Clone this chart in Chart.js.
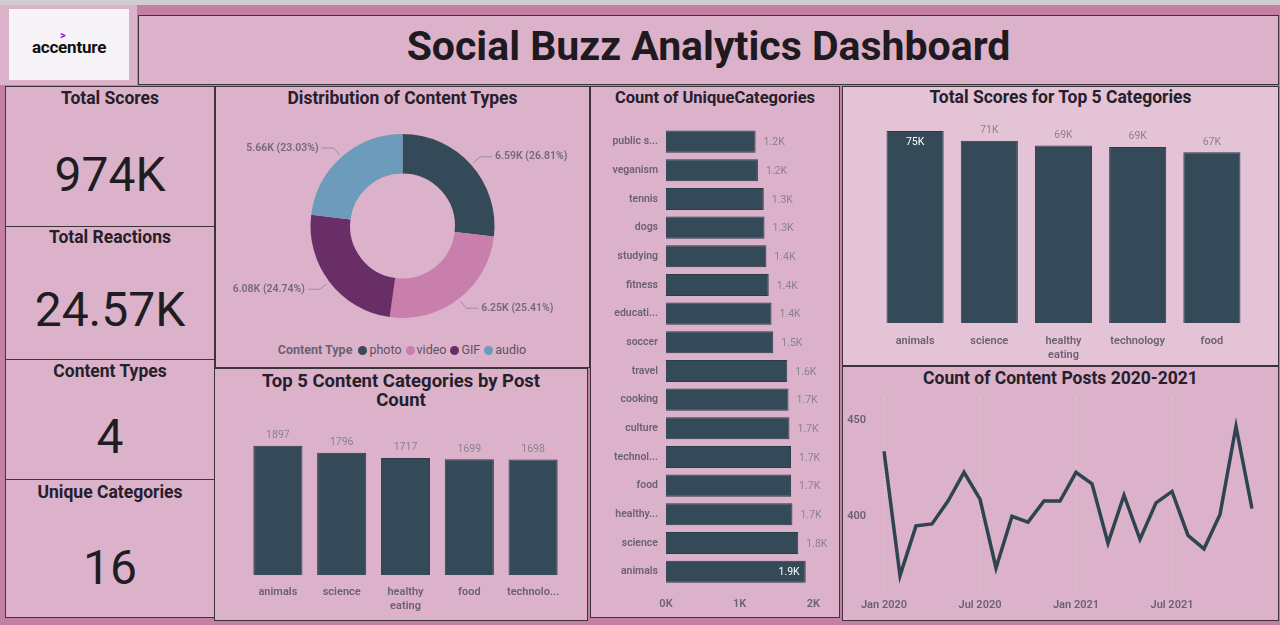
<!DOCTYPE html>
<html><head><meta charset="utf-8">
<script src="https://cdn.jsdelivr.net/npm/chart.js@4.4.1/dist/chart.umd.min.js"></script>
<style>
html,body{margin:0;padding:0;}
body{width:1280px;height:625px;background:#c47fa4;position:relative;overflow:hidden;font-family:Roboto,"DejaVu Sans",sans-serif;}
.topstrip{position:absolute;left:0;top:0;width:1280px;height:5px;background:#cfcdcf;}
.panel{position:absolute;box-sizing:border-box;background:#dcb2ca;border:1.5px solid #3b3438;}
.ptitle{position:absolute;left:0;right:0;text-align:center;font-weight:700;color:#25202a;font-size:17.5px;line-height:20px;}
.kval{position:absolute;left:0;right:0;text-align:center;color:#1e1e22;font-size:48px;line-height:50px;}
canvas{position:absolute;}
#legend{position:absolute;left:215px;width:374px;top:342px;text-align:center;font-size:12.5px;color:#5a5262;}
#legend span.it{margin-left:4px;}
#legend i{display:inline-block;width:9px;height:9px;border-radius:50%;margin-right:2px;vertical-align:-1px;}
</style></head>
<body>
<div class="topstrip"></div>
<div style="position:absolute;left:0;top:5px;width:137px;height:80px;background:#dcb2ca;"></div>
<div style="position:absolute;left:9px;top:9px;width:120px;height:71px;background:#f6f4f6;">
  <div style="position:absolute;left:0;right:0;top:28px;text-align:center;font-size:17px;font-weight:700;color:#111;letter-spacing:-0.2px;">accenture</div>
  <div style="position:absolute;left:51px;top:20px;color:#a100ff;font-size:11px;font-weight:700;">&gt;</div>
</div>
<div class="panel" style="left:138px;top:15px;width:1141px;height:70px;">
  <div style="position:absolute;left:0;right:0;top:6px;text-align:center;font-size:41px;line-height:48px;font-weight:700;color:#1e1a20;">Social Buzz Analytics Dashboard</div>
</div>

<div class="panel" style="left:5px;top:86px;width:210px;height:141px;"><div class="ptitle" style="top:1px;">Total Scores</div><div class="kval" id="k1" style="top:63px;"></div></div>
<div class="panel" style="left:5px;top:226px;width:210px;height:134px;"><div class="ptitle" style="top:0px;">Total Reactions</div><div class="kval" id="k2" style="top:58px;"></div></div>
<div class="panel" style="left:5px;top:359px;width:210px;height:121px;"><div class="ptitle" style="top:1px;">Content Types</div><div class="kval" id="k3" style="top:52px;"></div></div>
<div class="panel" style="left:5px;top:479px;width:210px;height:139px;"><div class="ptitle" style="top:2px;">Unique Categories</div><div class="kval" id="k4" style="top:63px;"></div></div>

<div class="panel" style="left:215px;top:86px;width:375px;height:282px;"><div class="ptitle" style="top:1px;">Distribution of Content Types</div></div>
<div class="panel" style="left:214px;top:368px;width:374px;height:253px;"><div class="ptitle" style="top:3px;font-size:18.5px;line-height:19px;">Top 5 Content Categories by Post<br>Count</div></div>
<div class="panel" style="left:590px;top:86px;width:250px;height:532px;"><div class="ptitle" style="top:1px;font-size:16.5px;">Count of UniqueCategories</div></div>
<div class="panel" style="left:842px;top:86px;width:437px;height:280px;background:#e4c3d6;"><div class="ptitle" style="top:0px;">Total Scores for Top 5 Categories</div></div>
<div class="panel" style="left:842px;top:366px;width:437px;height:255px;"><div class="ptitle" style="top:1px;">Count of Content Posts 2020-2021</div></div>

<canvas id="donut" width="365" height="228" style="left:220px;top:112px;"></canvas>
<div id="legend"></div>
<canvas id="top5" width="360" height="200" style="left:222px;top:415px;"></canvas>
<canvas id="uniq" width="240" height="503" style="left:596px;top:113px;"></canvas>
<canvas id="scores" width="428" height="253" style="left:846px;top:110px;"></canvas>
<canvas id="line" width="430" height="244" style="left:844px;top:374px;"></canvas>

<script>
// ---------- DATA ----------
const totalScores = 974000;
const contentTypes = ['photo','video','GIF','audio'];
const contentTypeCounts = [6589, 6245, 6079, 5660];

const top5PostCategories = ['animals','science',['healthy','eating'],'food','technolo...'];
const top5PostCounts = [1897, 1796, 1717, 1699, 1698];

const uniqueCategories = ['public s...','veganism','tennis','dogs','studying','fitness','educati...','soccer','travel','cooking','culture','technol...','food','healthy...','science','animals'];
const uniqueCategoryCounts = [1217, 1248, 1328, 1338, 1363, 1395, 1433, 1457, 1647, 1664, 1676, 1698, 1699, 1717, 1796, 1897];
const uniqueXTicks = [0, 1000, 2000];

const top5ScoreCategories = ['animals','science',['healthy','eating'],'technology','food'];
const top5ScoreValues = [74965, 71168, 69339, 68738, 66676];

const months = ['Jan 2020','Feb 2020','Mar 2020','Apr 2020','May 2020','Jun 2020','Jul 2020','Aug 2020','Sep 2020','Oct 2020','Nov 2020','Dec 2020',
                'Jan 2021','Feb 2021','Mar 2021','Apr 2021','May 2021','Jun 2021','Jul 2021','Aug 2021','Sep 2021','Oct 2021','Nov 2021','Dec 2021'];
const monthlyPosts = [434, 369, 395, 396, 408, 423, 409, 373, 400, 397, 408, 408, 423, 417, 386, 411, 388, 407, 413, 390, 383, 401, 447, 404];
const lineYTicks = [400, 450];

// ---------- STYLE ----------
const BAR = '#344a58';
const sliceColors = ['#344a58','#c87fab','#6a2e66','#6d9bbb'];
const LABEL_GRAY = '#8b8090';
const TICK_GRAY = '#6a6272';
const FONT = 'Roboto, "DejaVu Sans", sans-serif';

// KPIs
const totalReactions = contentTypeCounts.reduce((a,b)=>a+b,0);
document.getElementById('k1').textContent = Math.round(totalScores/1000)+'K';
document.getElementById('k2').textContent = (totalReactions/1000).toFixed(2)+'K';
document.getElementById('k3').textContent = contentTypes.length;
document.getElementById('k4').textContent = uniqueCategories.length;

// legend
const lg = document.getElementById('legend');
let lh = '<span style="font-weight:700;color:#6a6272;margin-right:2px;">Content Type</span>';
contentTypes.forEach((t,i)=>{ lh += '<span class="it"><i style="background:'+sliceColors[i]+'"></i>'+t+'</span>'; });
lg.innerHTML = lh;

// ---------- PLUGINS ----------
const barLabels = {
  id:'barLabels',
  afterDatasetsDraw(chart, args, opts){
    const {ctx, chartArea} = chart;
    const meta = chart.getDatasetMeta(0);
    const data = chart.data.datasets[0].data;
    ctx.save();
    ctx.font = opts.font;
    meta.data.forEach((el,i)=>{
      const txt = opts.format(data[i]);
      const w = ctx.measureText(txt).width;
      if (opts.horizontal){
        let x = el.x + 8, color = opts.color, align = 'left';
        if (x + w > chartArea.right + 1){ x = el.x - 6; color = '#ffffff'; align = 'right'; }
        ctx.fillStyle = color; ctx.textAlign = align; ctx.textBaseline = 'middle';
        ctx.fillText(txt, x, el.y + 1);
      } else {
        let y = el.y - 5, color = opts.color, base = 'bottom';
        if (el.y - 14 < chartArea.top){ y = el.y + 6; color = '#ffffff'; base = 'top'; }
        ctx.fillStyle = color; ctx.textAlign = 'center'; ctx.textBaseline = base;
        ctx.fillText(txt, el.x, y);
      }
    });
    ctx.restore();
  }
};

const donutLabels = {
  id:'donutLabels',
  afterDatasetsDraw(chart){
    const {ctx} = chart;
    const meta = chart.getDatasetMeta(0);
    const data = chart.data.datasets[0].data;
    const total = data.reduce((a,b)=>a+b,0);
    ctx.save();
    ctx.font = '600 10.5px ' + FONT;
    ctx.strokeStyle = '#9a8f9d'; ctx.lineWidth = 1;
    meta.data.forEach((arc,i)=>{
      const mid = (arc.startAngle + arc.endAngle)/2;
      const R = arc.outerRadius;
      const x0 = arc.x + Math.cos(mid)*(R+3), y0 = arc.y + Math.sin(mid)*(R+3);
      const x1 = arc.x + Math.cos(mid)*(R+12), y1 = arc.y + Math.sin(mid)*(R+12);
      const right = Math.cos(mid) >= 0;
      const x2 = x1 + (right ? 12 : -12);
      ctx.beginPath(); ctx.moveTo(x0,y0); ctx.lineTo(x1,y1); ctx.lineTo(x2,y1); ctx.stroke();
      const txt = (data[i]/1000).toFixed(2)+'K ('+(data[i]/total*100).toFixed(2)+'%)';
      ctx.fillStyle = '#74697a';
      ctx.textAlign = right ? 'left' : 'right';
      ctx.textBaseline = 'middle';
      ctx.fillText(txt, x2 + (right ? 3 : -3), y1);
    });
    ctx.restore();
  }
};

Chart.defaults.font.family = FONT;
Chart.defaults.animation = false;

// ---------- DONUT ----------
new Chart(document.getElementById('donut'), {
  type:'doughnut',
  data:{labels:contentTypes, datasets:[{data:contentTypeCounts, backgroundColor:sliceColors, borderWidth:0}]},
  options:{responsive:false, cutout:'57%', layout:{padding:22},
    plugins:{legend:{display:false}, tooltip:{enabled:false}}},
  plugins:[donutLabels]
});

// ---------- TOP 5 POSTS ----------
new Chart(document.getElementById('top5'), {
  type:'bar',
  data:{labels:top5PostCategories, datasets:[{data:top5PostCounts, backgroundColor:BAR, borderColor:'#2b3d48', borderWidth:1, categoryPercentage:1, barPercentage:0.77}]},
  options:{responsive:false, layout:{padding:{left:24,right:17,top:15,bottom:0}},
    scales:{
      x:{grid:{display:false, drawTicks:false}, border:{display:false}, afterFit(s){s.height=40;},
         ticks:{color:TICK_GRAY, font:{size:11, weight:'600'}, padding:11, maxRotation:0, autoSkip:false}},
      y:{display:false, min:0, max:2130}
    },
    plugins:{legend:{display:false}, tooltip:{enabled:false},
      barLabels:{font:'10.5px '+FONT, color:LABEL_GRAY, format:v=>String(v)}}},
  plugins:[barLabels]
});

// ---------- UNIQUE CATEGORIES ----------
new Chart(document.getElementById('uniq'), {
  type:'bar',
  data:{labels:uniqueCategories, datasets:[{data:uniqueCategoryCounts, backgroundColor:BAR, borderColor:'#2b3d48', borderWidth:1, categoryPercentage:1, barPercentage:0.77}]},
  options:{responsive:false, indexAxis:'y', layout:{padding:{left:0,right:8,top:0,bottom:0}},
    scales:{
      y:{grid:{display:false, drawTicks:false}, border:{display:false}, afterFit(s){s.width=70;},
         ticks:{color:TICK_GRAY, font:{size:10.5, weight:'600'}, padding:8, autoSkip:false}},
      x:{min:0, max:2200, grid:{display:false, drawTicks:false}, border:{display:false}, afterFit(s){s.height=30;},
         afterBuildTicks(s){s.ticks = uniqueXTicks.map(v=>({value:v}));},
         ticks:{color:TICK_GRAY, font:{size:11, weight:'600'}, padding:12, callback:v=>(v/1000)+'K'}}
    },
    plugins:{legend:{display:false}, tooltip:{enabled:false},
      barLabels:{horizontal:true, font:'10.5px '+FONT, color:LABEL_GRAY, format:v=>(v/1000).toFixed(1)+'K'}}},
  plugins:[barLabels]
});

// ---------- TOP 5 SCORES ----------
new Chart(document.getElementById('scores'), {
  type:'bar',
  data:{labels:top5ScoreCategories, datasets:[{data:top5ScoreValues, backgroundColor:BAR, borderColor:'#2b3d48', borderWidth:1, categoryPercentage:1, barPercentage:0.77}]},
  options:{responsive:false, layout:{padding:{left:32,right:25,top:10,bottom:0}},
    scales:{
      x:{grid:{display:false, drawTicks:false}, border:{display:false}, afterFit(s){s.height=40;},
         ticks:{color:TICK_GRAY, font:{size:11, weight:'600'}, padding:12, maxRotation:0, autoSkip:false}},
      y:{display:false, min:0, max:79270}
    },
    plugins:{legend:{display:false}, tooltip:{enabled:false},
      barLabels:{font:'10.5px '+FONT, color:LABEL_GRAY, format:v=>Math.round(v/1000)+'K'}}},
  plugins:[barLabels]
});

// ---------- LINE ----------
new Chart(document.getElementById('line'), {
  type:'line',
  data:{labels:months, datasets:[{data:monthlyPosts, borderColor:'#2e4450', borderWidth:3.5, pointRadius:0, tension:0, fill:false}]},
  options:{responsive:false, layout:{padding:{left:0,right:22,top:3,bottom:0}},
    scales:{
      x:{offset:false, border:{display:false, dash:[1,3]}, afterFit(s){s.height=28;},
         grid:{drawTicks:false, color:c=> (c.index%6===0 ? 'rgba(255,255,255,0.5)' : 'rgba(0,0,0,0)'), lineWidth:1},
         ticks:{autoSkip:false, maxRotation:0, color:TICK_GRAY, font:{size:11, weight:'600'}, padding:9,
                callback:function(v,i){return i%6===0 ? this.getLabelForValue(v) : '';}}},
      y:{min:361.5, max:461.5, border:{display:false}, grid:{display:false, drawTicks:false}, afterFit(s){s.width=40;},
         afterBuildTicks(s){s.ticks = lineYTicks.map(v=>({value:v}));},
         ticks:{color:TICK_GRAY, font:{size:11, weight:'600'}, padding:18}}
    },
    plugins:{legend:{display:false}, tooltip:{enabled:false}}},
});
</script>
</body></html>
